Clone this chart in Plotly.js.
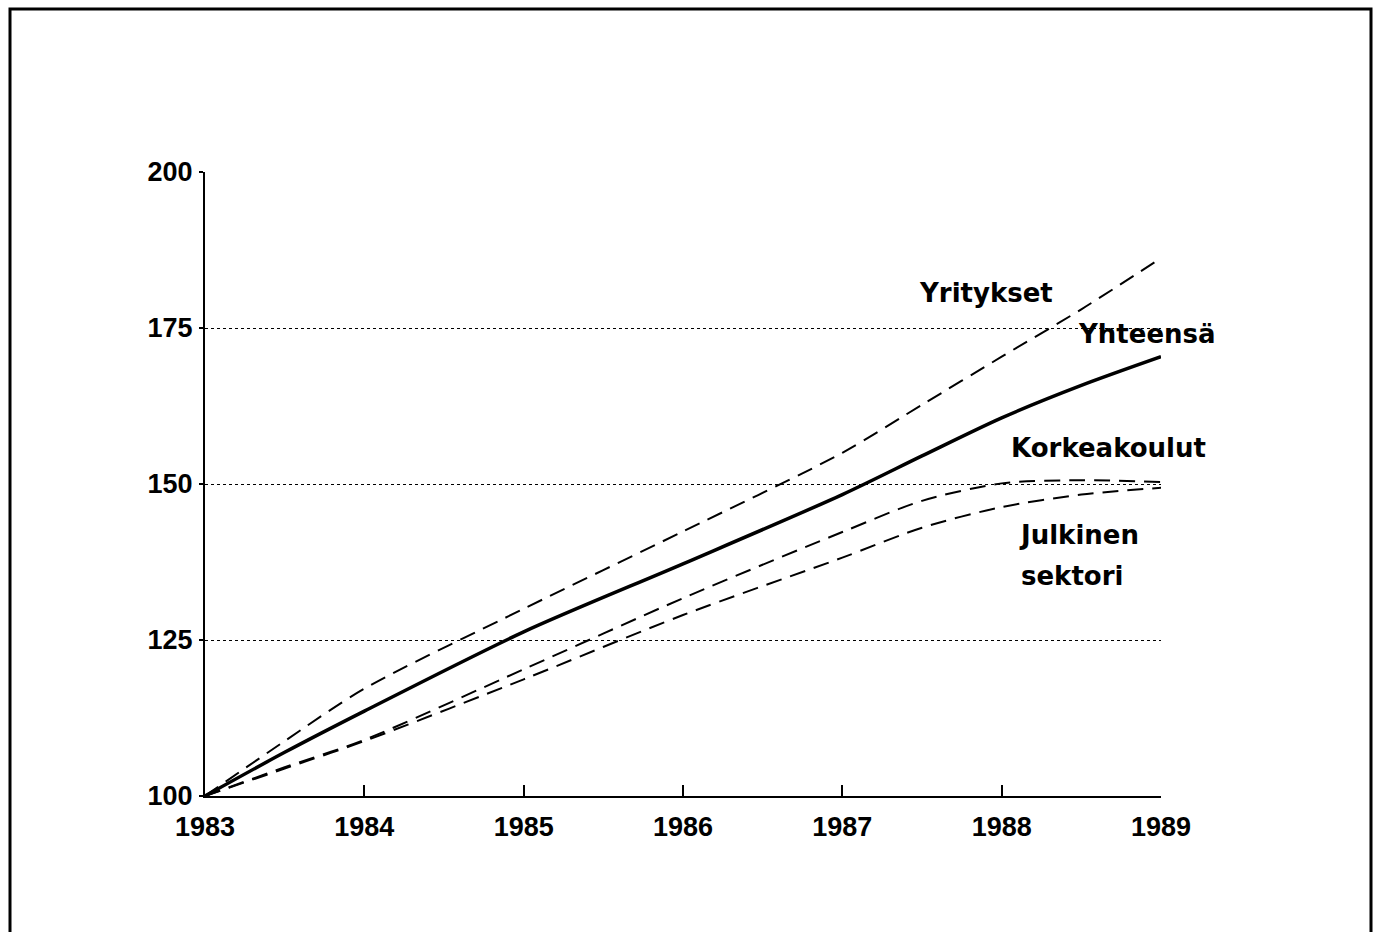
<!DOCTYPE html>
<html>
<head>
<meta charset="utf-8">
<script src="https://cdn.plot.ly/plotly-3.0.1.min.js"></script>
<style>html,body{margin:0;padding:0;background:#fff;}#chart{width:1381px;height:932px;}</style>
</head>
<body>
<div id="chart"></div>
<script>
// Data (index, 1983 = 100)
const years = [1983, 1983.5, 1984, 1985, 1986, 1987, 1987.5, 1988, 1988.5, 1989];
const yritykset = [100, 108.8, 117.2, 130.0, 142.4, 155.0, 162.7, 170.4, 178.0, 186.2];
const yhteensa = [100, 107.0, 113.6, 126.3, 137.2, 148.3, 154.5, 160.6, 165.8, 170.4];
const korkeakoulut = [100, 104.6, 109.0, 120.3, 131.7, 142.3, 147.3, 150.1, 150.6, 150.3];
const julkinen = [100, 104.4, 108.8, 118.7, 129.0, 138.2, 143.0, 146.3, 148.3, 149.4];
const xTicks = [1983, 1984, 1985, 1986, 1987, 1988, 1989];
const yTicks = [100, 125, 150, 175, 200];
const labelTexts = ["Yritykset", "Yhteensä", "Korkeakoulut", "Julkinen", "sektori"];

const font = "'Liberation Sans', Arial, sans-serif";
const labelFontFamily = "'DejaVu Sans', sans-serif";
const dashLine = {color: "#000", width: 2, dash: "16px,9px", shape: "spline", smoothing: 0.8};

const traces = [
  {x: years, y: yritykset, mode: "lines", line: dashLine, name: "Yritykset"},
  {x: years, y: korkeakoulut, mode: "lines", line: dashLine, name: "Korkeakoulut"},
  {x: years, y: julkinen, mode: "lines", line: dashLine, name: "Julkinen sektori"},
  {x: years, y: yhteensa, mode: "lines", line: {color: "#000", width: 3.5, shape: "spline", smoothing: 0.8}, name: "Yhteensä"}
];

const annFont = {family: labelFontFamily, size: 26, color: "#000", weight: "bold"};
const pos = [
  {px: 986, py: 293, anchor: "center"},
  {px: 1147, py: 334, anchor: "center"},
  {px: 1108, py: 448, anchor: "center"},
  {px: 1017, py: 535, anchor: "left"},
  {px: 1019, py: 576, anchor: "left"}
];
const annotations = labelTexts.map((t, i) => ({
  x: (pos[i].px - 205) / 956, y: (796 - pos[i].py) / 624, xref: "paper", yref: "paper",
  text: t, showarrow: false, font: annFont, xanchor: pos[i].anchor, yanchor: "middle"
}));

const layout = {
  width: 1381, height: 932,
  margin: {l: 205, r: 220, t: 172, b: 136},
  paper_bgcolor: "#fff", plot_bgcolor: "#fff",
  showlegend: false,
  font: {family: font, color: "#000"},
  xaxis: {
    range: [1983, 1989], tickvals: xTicks, ticktext: xTicks.map(String),
    showgrid: false, zeroline: false, showline: true, linecolor: "#000", linewidth: 2,
    ticks: "inside", ticklen: 11, tickwidth: 2, tickcolor: "#000",
    ticklabelstandoff: 6,
    tickfont: {family: font, size: 27, color: "#000", weight: "bold"}
  },
  yaxis: {
    range: [100, 200], tickvals: yTicks, ticktext: yTicks.map(String),
    showgrid: true, gridcolor: "#000", gridwidth: 1, griddash: "dot",
    zeroline: false, showline: true, linecolor: "#000", linewidth: 2,
    ticks: "outside", ticklen: 4, tickwidth: 2, tickcolor: "#000",
    ticklabelstandoff: 1,
    tickfont: {family: font, size: 27, color: "#000", weight: "bold"}
  },
  annotations: annotations,
  shapes: [
    {type: "rect", xref: "paper", yref: "paper",
     x0: (10 - 205) / 956, x1: (1371 - 205) / 956,
     y0: (796 - 960) / 624, y1: (796 - 9) / 624,
     line: {color: "#000", width: 3}}
  ]
};

Plotly.newPlot("chart", traces, layout, {displayModeBar: false, staticPlot: true});
</script>
</body>
</html>
